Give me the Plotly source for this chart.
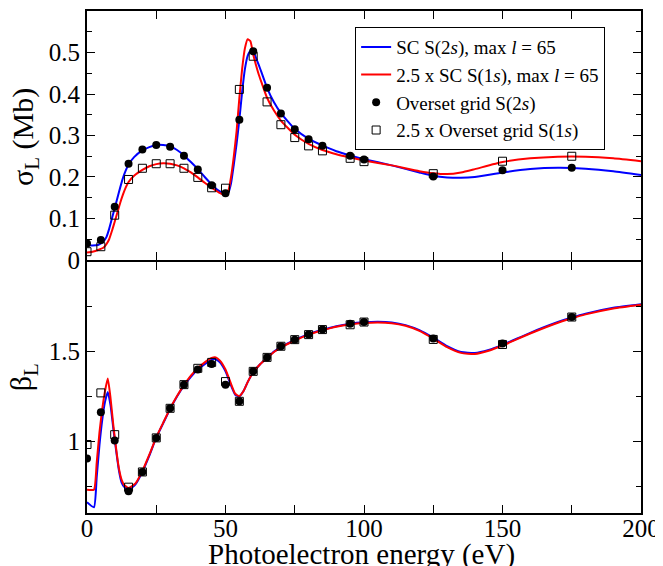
import plotly.graph_objects as go

# ---------------- data ----------------
# SC S(2s), max l = 65 : sigma_L (Mb)
sig_blue_E = [0, 2, 4, 6, 7, 8, 9, 10, 11, 12, 13, 14, 15, 17, 20, 22.5, 25, 27.5, 30, 32.5, 35, 37.5, 40, 42.5,
              45, 47.5, 50, 51, 52, 53, 54, 55, 56, 57, 58, 59, 60, 61, 62, 63, 65, 67.5, 70, 75, 80, 85, 90,
              95, 100, 110, 120, 125, 130, 135, 140, 150, 160, 170, 180, 190, 200]
sig_blue = [0.036, 0.035, 0.036, 0.045, 0.055, 0.075, 0.100, 0.125, 0.150, 0.175, 0.198, 0.216, 0.230, 0.248,
            0.264, 0.272, 0.277, 0.277, 0.274, 0.265, 0.252, 0.236, 0.219, 0.200, 0.182, 0.167, 0.158, 0.162,
            0.185, 0.230, 0.280, 0.338, 0.405, 0.460, 0.492, 0.504, 0.502, 0.487, 0.470, 0.452, 0.415, 0.380,
            0.354, 0.316, 0.292, 0.276, 0.262, 0.252, 0.243, 0.228, 0.211, 0.203, 0.199, 0.198, 0.200, 0.211,
            0.219, 0.222, 0.220, 0.214, 0.205]

# 2.5 x SC S(1s), max l = 65 : sigma_L (Mb)
sig_red_E = [0, 2, 4, 6, 7, 8, 9, 10, 11, 12, 13, 14, 15, 17, 20, 22.5, 25, 27.5, 30, 32.5, 35, 37.5, 40, 42.5,
             45, 47.5, 50, 51, 52, 53, 54, 55, 56, 57, 58, 59, 60, 61, 62, 63, 65, 67.5, 70, 75, 80, 85, 90,
             95, 100, 110, 120, 125, 130, 135, 140, 150, 160, 170, 180, 190, 200]
sig_red = [0.018, 0.020, 0.024, 0.030, 0.038, 0.050, 0.070, 0.092, 0.115, 0.138, 0.158, 0.175, 0.188, 0.203,
           0.217, 0.226, 0.231, 0.233, 0.232, 0.228, 0.221, 0.211, 0.199, 0.186, 0.174, 0.163, 0.156, 0.165,
           0.200, 0.250, 0.310, 0.390, 0.460, 0.510, 0.532, 0.527, 0.495, 0.470, 0.447, 0.428, 0.391, 0.360,
           0.336, 0.302, 0.280, 0.265, 0.255, 0.247, 0.240, 0.228, 0.214, 0.209, 0.207, 0.211, 0.219, 0.236,
           0.245, 0.249, 0.249, 0.245, 0.238]

# Overset grid energies
grid_E = [0, 5, 10, 15, 20, 25, 30, 35, 40, 45, 50, 55, 60, 65, 70, 75, 80, 85, 95, 100, 125, 150, 175]
sig_grid_2s = [0.040, 0.048, 0.128, 0.232, 0.266, 0.277, 0.273, 0.251, 0.218, 0.180, 0.161, 0.338, 0.503,
               0.415, 0.353, 0.315, 0.291, 0.275, 0.251, 0.242, 0.201, 0.216, 0.222]
sig_grid_1s = [0.020, 0.032, 0.108, 0.194, 0.221, 0.232, 0.232, 0.221, 0.199, 0.174, 0.173, 0.411, 0.491,
               0.381, 0.326, 0.295, 0.275, 0.263, 0.245, 0.237, 0.208, 0.238, 0.250]

# beta_L curves
beta_E = [0, 2.5, 3.5, 4.5, 5.5, 6.5, 7.5, 8.5, 9.5, 10.5, 11.5, 12.5, 13.5, 15, 17.5, 20, 22.5, 25, 27.5, 30,
          32.5, 35, 37.5, 40, 42.5, 45, 46.5, 48, 50, 52, 53.5, 55, 56.5, 58, 60, 62.5, 65, 67.5, 70, 75, 80,
          85, 90, 95, 100, 105, 110, 115, 120, 125, 130, 135, 140, 145, 150, 160, 170, 175, 180, 190, 200]
beta_blue = [0.660, 0.632, 0.800, 0.980, 1.120, 1.220, 1.275, 1.200, 1.070, 0.950, 0.840, 0.770, 0.745, 0.730,
             0.760, 0.830, 0.920, 1.020, 1.100, 1.180, 1.250, 1.310, 1.360, 1.400, 1.430, 1.455, 1.458, 1.440,
             1.390, 1.310, 1.260, 1.250, 1.280, 1.330, 1.385, 1.430, 1.465, 1.500, 1.525, 1.565, 1.598, 1.622,
             1.642, 1.656, 1.664, 1.667, 1.663, 1.648, 1.620, 1.578, 1.530, 1.498, 1.493, 1.510, 1.538, 1.605,
             1.665, 1.690, 1.712, 1.745, 1.765]
beta_red = [0.730, 0.730, 0.880, 1.050, 1.180, 1.280, 1.350, 1.240, 1.090, 0.960, 0.850, 0.785, 0.755, 0.740,
            0.765, 0.835, 0.925, 1.022, 1.103, 1.183, 1.253, 1.313, 1.366, 1.407, 1.440, 1.465, 1.468, 1.450,
            1.400, 1.320, 1.265, 1.252, 1.280, 1.330, 1.385, 1.430, 1.465, 1.498, 1.523, 1.562, 1.595, 1.619,
            1.639, 1.652, 1.660, 1.663, 1.659, 1.644, 1.616, 1.573, 1.525, 1.493, 1.487, 1.505, 1.534, 1.601,
            1.661, 1.686, 1.708, 1.741, 1.762]

beta_grid_2s = [0.904, 1.162, 1.004, 0.721, 0.829, 1.019, 1.184, 1.316, 1.400, 1.431, 1.316, 1.223, 1.390,
                1.468, 1.530, 1.567, 1.595, 1.623, 1.656, 1.665, 1.573, 1.546, 1.693]
beta_grid_1s = [0.982, 1.270, 1.037, 0.744, 0.829, 1.019, 1.184, 1.316, 1.407, 1.440, 1.333, 1.223, 1.390,
                1.468, 1.530, 1.567, 1.595, 1.623, 1.650, 1.665, 1.568, 1.540, 1.693]

x_ticks = [0, 25, 50, 75, 100, 125, 150, 175, 200]
x_ticktext = ["0", "", "50", "", "100", "", "150", "", "200"]
sig_ticks = [0, 0.1, 0.2, 0.3, 0.4, 0.5]
sig_minor = [0.05, 0.15, 0.25, 0.35, 0.45, 0.55]
beta_ticks = [1, 1.5]
beta_minor = [0.75, 1.25, 1.75]

names = ["SC S(2<i>s</i>), max <i>l</i> = 65",
         "2.5 x SC S(1<i>s</i>), max <i>l</i> = 65",
         "Overset grid S(2<i>s</i>)",
         "2.5 x Overset grid S(1<i>s</i>)"]
x_title = "Photoelectron energy (eV)"
sig_title = "σ<sub>L</sub> (Mb)"
beta_title = "β<sub>L</sub>"

# ---------------- figure ----------------
FONT = "'Liberation Serif', 'Times New Roman', serif"
BLUE = "#0000ff"
RED = "#ff0000"

fig = go.Figure()
line_kw = dict(shape="spline", smoothing=0.5, width=2)

# top panel (sigma)
fig.add_trace(go.Scatter(x=sig_blue_E, y=sig_blue, mode="lines", line=dict(color=BLUE, **line_kw),
                         name=names[0], xaxis="x2", yaxis="y2", legendrank=1))
fig.add_trace(go.Scatter(x=sig_red_E, y=sig_red, mode="lines", line=dict(color=RED, **line_kw),
                         name=names[1], xaxis="x2", yaxis="y2", legendrank=2))
fig.add_trace(go.Scatter(x=grid_E, y=sig_grid_2s, mode="markers",
                         marker=dict(symbol="circle", size=8, color="black"),
                         name=names[2], xaxis="x2", yaxis="y2", legendrank=3))
fig.add_trace(go.Scatter(x=grid_E, y=sig_grid_1s, mode="markers",
                         marker=dict(symbol="square-open", size=8, color="black", line=dict(width=1)),
                         name=names[3], xaxis="x2", yaxis="y2", legendrank=4))

# bottom panel (beta)
fig.add_trace(go.Scatter(x=beta_E, y=beta_blue, mode="lines", line=dict(color=BLUE, **line_kw),
                         showlegend=False, xaxis="x", yaxis="y"))
fig.add_trace(go.Scatter(x=beta_E, y=beta_red, mode="lines", line=dict(color=RED, **line_kw),
                         showlegend=False, xaxis="x", yaxis="y"))
fig.add_trace(go.Scatter(x=grid_E, y=beta_grid_2s, mode="markers",
                         marker=dict(symbol="circle", size=8, color="black"),
                         showlegend=False, xaxis="x", yaxis="y"))
fig.add_trace(go.Scatter(x=grid_E, y=beta_grid_1s, mode="markers",
                         marker=dict(symbol="square-open", size=8, color="black", line=dict(width=1)),
                         showlegend=False, xaxis="x", yaxis="y"))

axis_common = dict(showline=True, linecolor="black", linewidth=2, mirror="allticks",
                   ticks="inside", tickcolor="black", tickwidth=1.2, showgrid=False, zeroline=False,
                   automargin=False,
                   tickfont=dict(family=FONT, size=25, color="black"))

# the page body adds an 8 px offset; size the figure to fill the window
fig.update_layout(
    width=655, height=558,
    margin=dict(l=79, r=22, t=3, b=53, autoexpand=False),
    paper_bgcolor="white", plot_bgcolor="white",
    font=dict(family=FONT, color="black"),
    showlegend=True,
    legend=dict(x=0.484, y=0.968, xanchor="left", yanchor="top",
                bordercolor="black", borderwidth=1, bgcolor="white",
                font=dict(family=FONT, size=19, color="black"),
                tracegroupgap=0, itemwidth=30, entrywidth=235, entrywidthmode="pixels"),
    xaxis=dict(domain=[0, 1], range=[0, 200], anchor="y",
               tickmode="array", tickvals=x_ticks, ticktext=x_ticktext, ticklen=8,
               ticklabelstandoff=-8,
               **axis_common),
    yaxis=dict(domain=[0, 0.5], range=[0.6, 2.0], anchor="x",
               tickmode="array", tickvals=beta_ticks, ticklen=8,
               minor=dict(tickmode="array", tickvals=beta_minor, ticklen=5, ticks="inside",
                          tickcolor="black", showgrid=False),
               **axis_common),
    xaxis2=dict(domain=[0, 1], range=[0, 200], anchor="y2", matches="x",
                tickmode="array", tickvals=x_ticks, showticklabels=False, ticklen=8,
                **axis_common),
    yaxis2=dict(domain=[0.504, 1], range=[0, 0.6], anchor="x2",
                tickmode="array", tickvals=sig_ticks, ticklen=8,
                minor=dict(tickmode="array", tickvals=sig_minor, ticklen=5,
                           ticks="inside", tickcolor="black", showgrid=False),
                **axis_common),
    annotations=[
        dict(text=x_title, xref="paper", yref="paper", x=0.496, y=-0.046,
             xanchor="center", yanchor="top", showarrow=False,
             font=dict(family=FONT, size=29, color="black")),
        dict(text=sig_title, textangle=-90, xref="paper", yref="paper", x=-0.112, y=0.749,
             xanchor="center", yanchor="middle", showarrow=False,
             font=dict(family=FONT, size=30, color="black")),
        dict(text=beta_title, textangle=-90, xref="paper", yref="paper", x=-0.114, y=0.27,
             xanchor="center", yanchor="middle", showarrow=False,
             font=dict(family=FONT, size=30, color="black")),
    ],
)

fig.write_html("out.html")
